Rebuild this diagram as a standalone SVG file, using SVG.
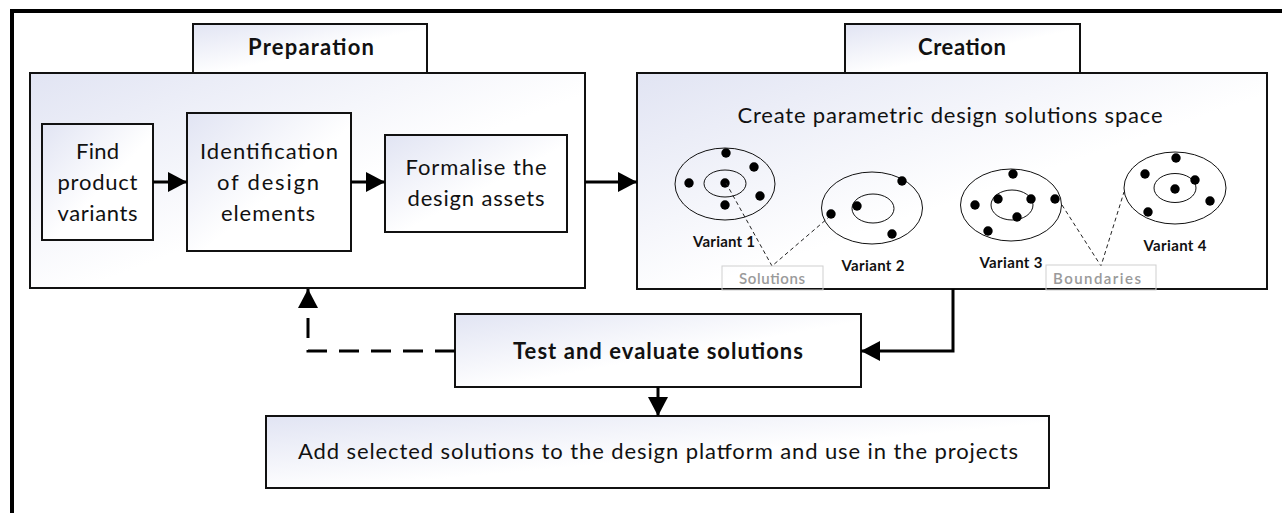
<svg xmlns="http://www.w3.org/2000/svg" width="1282" height="513" viewBox="0 0 1282 513">
<defs>
<linearGradient id="g" x1="0" y1="0" x2="1" y2="1">
<stop offset="0" stop-color="#e1e4f3"/>
<stop offset="0.55" stop-color="#ffffff"/>
<stop offset="1" stop-color="#ffffff"/>
</linearGradient>
<marker id="arr" markerUnits="userSpaceOnUse" markerWidth="19" markerHeight="20" refX="19" refY="10" orient="auto">
<path d="M0,0 L19,10 L0,20 Z" fill="#000"/>
</marker>
<style>
.box{fill:url(#g);stroke:#111;stroke-width:2}
.t{font-family:Lato,"Liberation Sans",sans-serif;font-size:22px;fill:#111;text-anchor:middle}
.b{font-weight:bold}
.v{font-family:Lato,"Liberation Sans",sans-serif;font-size:15px;font-weight:bold;fill:#111;text-anchor:middle}
.lbl{font-family:Lato,"Liberation Sans",sans-serif;font-size:15px;font-weight:600;fill:#9a9a9a;text-anchor:middle}
.lblbox{fill:none;stroke:#cfcfcf;stroke-width:1}
.ell{fill:none;stroke:#111;stroke-width:1}
.dot{fill:#000}
.dl{fill:none;stroke:#222;stroke-width:1;stroke-dasharray:4 3}
.c{fill:none;stroke:#000;stroke-width:3}
</style>
</defs>
<rect width="1282" height="513" fill="#fff"/>
<g id="frame"><path d="M12,513 V11 H1282" fill="none" stroke="#000" stroke-width="4"/></g>

<g id="preparation">
<rect class="box" x="193" y="24" width="234" height="49"/>
<text class="t b" x="311" y="55" font-size="20" textLength="126">Preparation</text>
<rect class="box" x="30" y="73" width="555" height="215"/>
</g>
<g id="find">
<rect class="box" x="42" y="124" width="111" height="116"/>
<text class="t" x="97.5" y="159" textLength="43">Find</text>
<text class="t" x="97.5" y="190" textLength="80">product</text>
<text class="t" x="97.5" y="221" textLength="80">variants</text>
</g>
<g id="identification">
<rect class="box" x="187" y="113" width="164" height="138"/>
<text class="t" x="269" y="159" textLength="138">Identification</text>
<text class="t" x="268" y="190" textLength="102">of  design</text>
<text class="t" x="268" y="221" textLength="94">elements</text>
</g>
<g id="formalise">
<rect class="box" x="385" y="135" width="182" height="97"/>
<text class="t" x="476" y="175" textLength="141">Formalise the</text>
<text class="t" x="476" y="206" textLength="137">design assets</text>
</g>

<g id="creation">
<rect class="box" x="845" y="24" width="235" height="49"/>
<text class="t b" x="962" y="55" font-size="20" textLength="88">Creation</text>
<rect class="box" x="637" y="73" width="630" height="216" stroke-width="2.5"/>
<text class="t" x="950" y="123" font-size="23" textLength="425">Create parametric design solutions space</text>
</g>
<g id="variant1">
<ellipse class="ell" cx="725" cy="184" rx="50" ry="36"/>
<ellipse class="ell" cx="725" cy="183.5" rx="21" ry="13.5"/>
<circle class="dot" cx="726" cy="153" r="4.7"/><circle class="dot" cx="754" cy="167" r="4.7"/><circle class="dot" cx="689" cy="183" r="4.7"/><circle class="dot" cx="725" cy="183" r="4.7"/><circle class="dot" cx="760" cy="196" r="4.7"/><circle class="dot" cx="725" cy="205" r="4.7"/>
<text class="v" x="724" y="247" textLength="62">Variant 1</text>
</g>
<g id="variant2">
<ellipse class="ell" cx="872" cy="208" rx="50.5" ry="36"/>
<ellipse class="ell" cx="873" cy="208.5" rx="21" ry="14.5"/>
<circle class="dot" cx="902" cy="181" r="4.7"/><circle class="dot" cx="857" cy="206" r="4.7"/><circle class="dot" cx="831" cy="214" r="4.7"/><circle class="dot" cx="892" cy="234" r="4.7"/>
<text class="v" x="873" y="271" textLength="63">Variant 2</text>
</g>
<g id="variant3">
<ellipse class="ell" cx="1011" cy="205" rx="50.5" ry="36"/>
<ellipse class="ell" cx="1012" cy="205" rx="21" ry="15"/>
<circle class="dot" cx="1013" cy="174" r="4.7"/><circle class="dot" cx="975" cy="205" r="4.7"/><circle class="dot" cx="998" cy="199" r="4.7"/><circle class="dot" cx="1031" cy="199" r="4.7"/><circle class="dot" cx="1055" cy="199" r="4.7"/><circle class="dot" cx="1017" cy="217" r="4.7"/><circle class="dot" cx="988" cy="231" r="4.7"/>
<text class="v" x="1011" y="268" textLength="63">Variant 3</text>
</g>
<g id="variant4">
<ellipse class="ell" cx="1175" cy="188" rx="51" ry="36"/>
<ellipse class="ell" cx="1175" cy="188" rx="21" ry="14.5"/>
<circle class="dot" cx="1176" cy="158" r="4.7"/><circle class="dot" cx="1145" cy="174" r="4.7"/><circle class="dot" cx="1195" cy="180" r="4.7"/><circle class="dot" cx="1175" cy="189" r="4.7"/><circle class="dot" cx="1210" cy="201" r="4.7"/><circle class="dot" cx="1148" cy="212" r="4.7"/>
<text class="v" x="1175" y="251" textLength="63">Variant 4</text>
</g>
<g id="solutions">
<path class="dl" d="M726,183 L772,266 L828,218"/>
<rect class="lblbox" x="722" y="266" width="101" height="24"/>
<text class="lbl" x="772" y="284" textLength="66">Solutions</text>
</g>
<g id="boundaries">
<path class="dl" d="M1062,205 L1101,266 L1124,192"/>
<rect class="lblbox" x="1046" y="265" width="110" height="25"/>
<text class="lbl" x="1097" y="284" textLength="88">Boundaries</text>
</g>

<g id="test">
<rect class="box" x="455" y="314" width="406" height="73"/>
<text class="t b" x="658" y="359" font-size="21" textLength="290">Test and evaluate solutions</text>
</g>
<g id="add">
<rect class="box" x="266" y="416" width="783" height="72"/>
<text class="t" x="658" y="459" textLength="720">Add selected solutions to the design platform and use in the projects</text>
</g>

<g id="connectors">
<line class="c" x1="153" y1="182" x2="187" y2="182" marker-end="url(#arr)"/>
<line class="c" x1="351" y1="182" x2="385" y2="182" marker-end="url(#arr)"/>
<line class="c" x1="585" y1="182" x2="637" y2="182" stroke-width="2" marker-end="url(#arr)"/>
<polyline class="c" points="953,289 953,351 861,351" marker-end="url(#arr)"/>
<line class="c" x1="658" y1="387" x2="658" y2="416" stroke-width="2" marker-end="url(#arr)"/>
<polyline class="c" points="455,351 308,351 308,289" stroke-dasharray="20 12" marker-end="url(#arr)"/>
</g>
</svg>
